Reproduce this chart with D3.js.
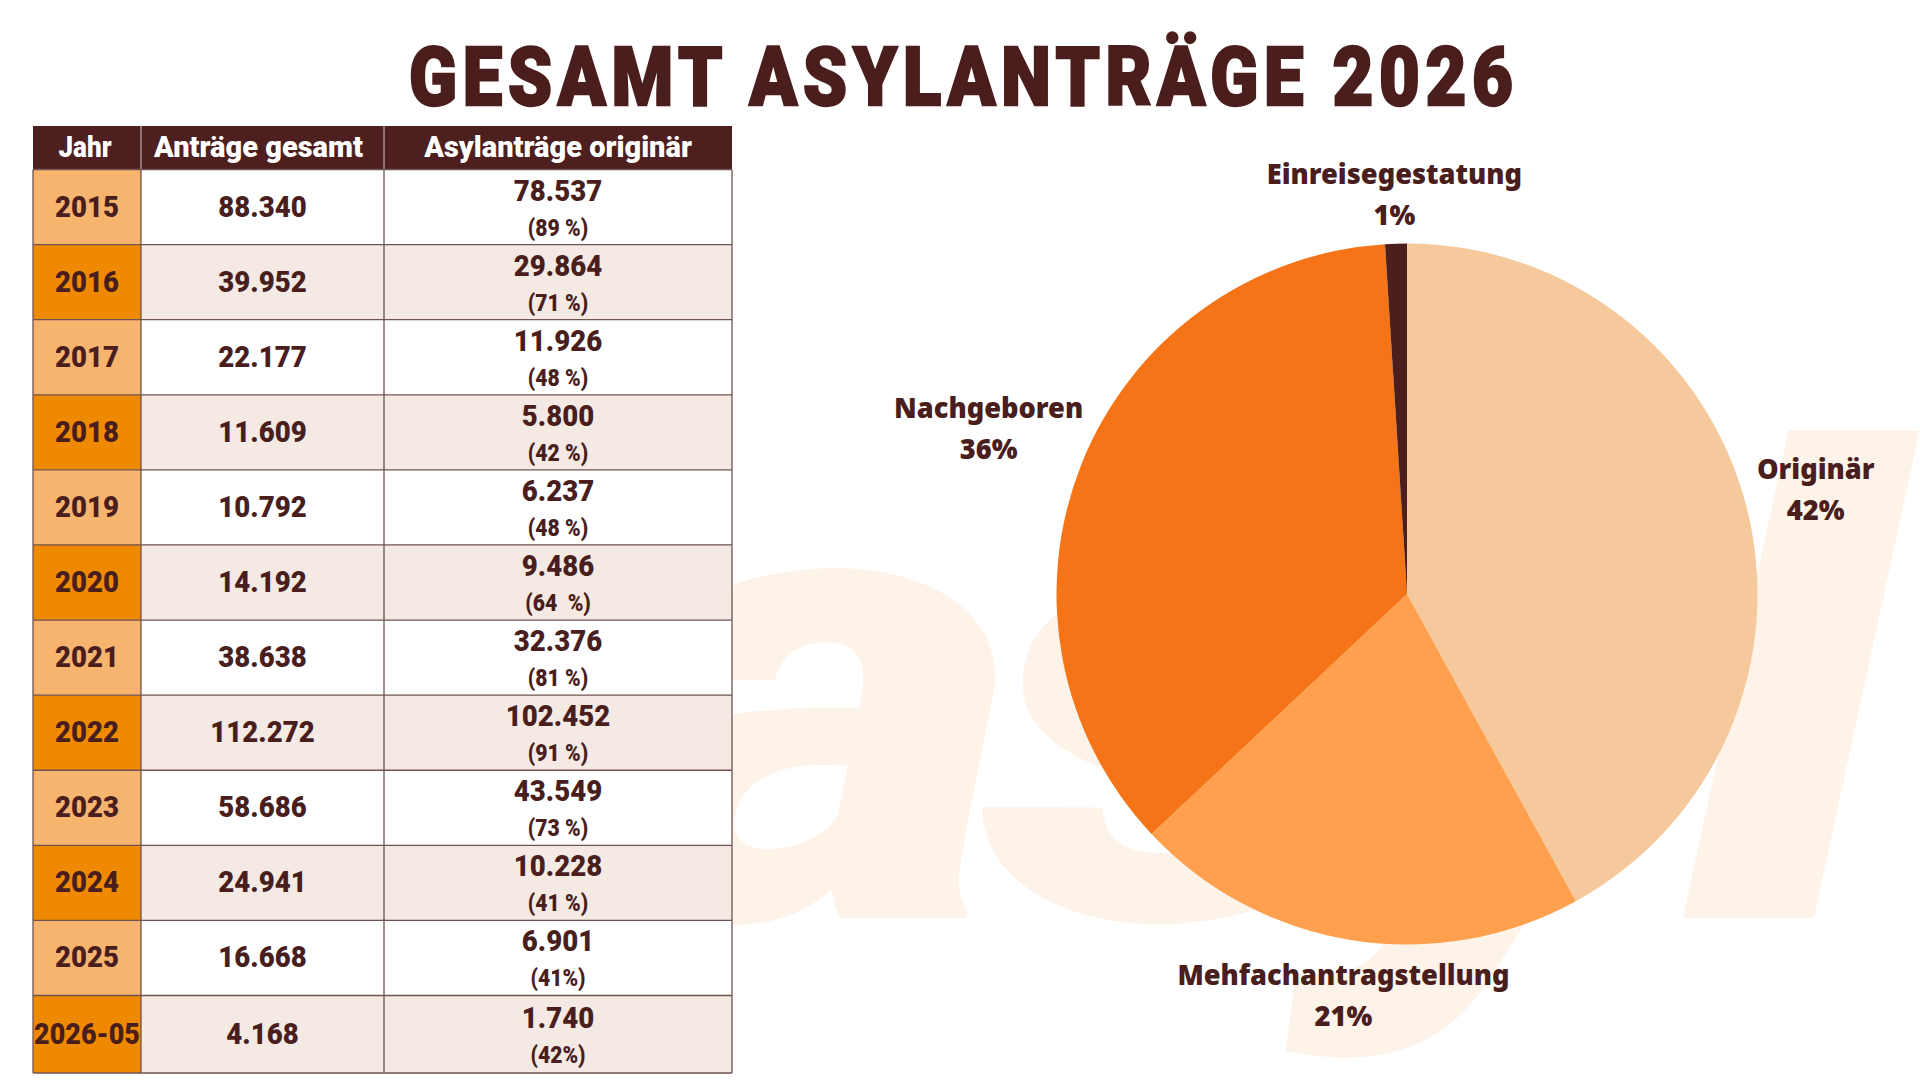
<!DOCTYPE html>
<meta charset="utf-8">
<style>
    html, body { margin: 0; padding: 0; background: #fff; }
    svg { display: block; }
    text { fill: #4a1e1c; white-space: pre; }
    .title { font-family: "Roboto", sans-serif; font-weight: 900; font-size: 82px; text-anchor: middle; stroke: #4a1e1c; stroke-width: 2.4px; }
    .head { font-family: "Roboto", sans-serif; font-weight: 900; font-size: 29px; text-anchor: middle; fill: #fff; }
    .cell { font-family: "Roboto", sans-serif; font-weight: 900; font-size: 30px; text-anchor: middle; }
    .sub { font-family: "Roboto", sans-serif; font-weight: 900; font-size: 23px; text-anchor: middle; }
    .pie-label { font-family: "Noto Sans", sans-serif; font-weight: 900; font-size: 29px; text-anchor: middle; }
    .mark { font-family: "Roboto", sans-serif; font-weight: 900; font-style: italic; font-size: 650px; fill: #fdf3e9; }
</style>
<svg id="f" width="1920" height="1080"></svg>
<script src="https://cdn.jsdelivr.net/npm/d3@7"></script>
<script>
    // table values
    var years = ["2015", "2016", "2017", "2018", "2019", "2020", "2021", "2022", "2023", "2024", "2025", "2026-05"];
    var totals = ["88.340", "39.952", "22.177", "11.609", "10.792", "14.192", "38.638", "112.272", "58.686", "24.941", "16.668", "4.168"];
    var originals = ["78.537", "29.864", "11.926", "5.800", "6.237", "9.486", "32.376", "102.452", "43.549", "10.228", "6.901", "1.740"];
    var shares = ["(89 %)", "(71 %)", "(48 %)", "(42 %)", "(48 %)", "(64  %)", "(81 %)", "(91 %)", "(73 %)", "(41 %)", "(41%)", "(42%)"];
    var headers = ["Jahr", "Anträge gesamt", "Asylanträge originär"];

    // pie values
    var slices = ["Originär", "Mehfachantragstellung", "Nachgeboren", "Einreisegestatung"];
    var percent = [42, 21, 36, 1];
    var sliceColors = ["#f5c99c", "#ffa04f", "#f57418", "#4d1f1c"];
    var labelRadius = [422, 406, 450, 400];

    var svg = d3.select("#f");

    var dark = "#4d1f1f", line = "#6f5350";
    var cols = [33, 141, 384, 732];
    var headShift = [-2, -4, 0];
    var bottom = 1073;
    var y = d3.scaleBand().domain(years).range([169.5, 1070.6]);
    var last = years[years.length - 1];
    var rowH = function (d) { return d === last ? bottom - y(d) : y.bandwidth(); };
    var shift = function (d) { return d === last ? 1.5 : 0; };
    var squeeze = 0.92;

    // big background word, stretched; x positions are before the stretch
    var markScale = 1.25;
    svg.append("text").attr("class", "mark").attr("transform", "scale(" + markScale + ",1)")
        .attr("x", [604, 986, 1300, 1681].map(function (v) { return v / markScale; }).join(" "))
        .attr("y", 918).text("asyl");

    svg.append("text").attr("class", "title").attr("transform", "translate(961,105) scale(0.86,1)")
        .attr("textLength", 1104 / 0.86).attr("lengthAdjust", "spacing").text("GESAMT ASYLANTRÄGE 2026");

    // header
    var head = svg.append("g");
    head.append("rect").attr("x", cols[0]).attr("y", 126).attr("width", cols[3] - cols[0]).attr("height", 43.5).attr("fill", dark);
    headers.forEach(function (h, i) {
        head.append("text").attr("class", "head")
            .attr("transform", "translate(" + ((cols[i] + cols[i + 1]) / 2 + headShift[i]) + ",157)" + (i === 0 ? " scale(0.9,1)" : ""))
            .text(h);
        if (i) head.append("line").attr("x1", cols[i]).attr("x2", cols[i]).attr("y1", 126).attr("y2", 169.5).attr("stroke", "#d9c9c5").attr("stroke-width", 1);
    });

    // rows
    var row = svg.selectAll(".row").data(years).enter().append("g").attr("class", "row")
        .attr("transform", function (d) { return "translate(0," + y(d) + ")"; });

    row.append("rect").attr("x", cols[1]).attr("width", cols[3] - cols[1]).attr("height", rowH)
        .attr("fill", function (d, i) { return i % 2 ? "#f4e9e3" : "#fff"; });
    row.append("rect").attr("x", cols[0]).attr("width", cols[1] - cols[0]).attr("height", rowH)
        .attr("fill", function (d, i) { return i % 2 ? "#ef8a00" : "#f7b46f"; });

    function place(x, yy) {
        return function (d) { return "translate(" + x + "," + (yy + shift(d)) + ") scale(" + squeeze + ",1)"; };
    }

    row.append("text").attr("class", "cell").attr("transform", place((cols[0] + cols[1]) / 2, 47))
        .attr("textLength", function (d) { return d.length > 4 ? 115 : null; })
        .attr("lengthAdjust", "spacingAndGlyphs")
        .text(function (d) { return d; });
    row.append("text").attr("class", "cell").attr("transform", place((cols[1] + cols[2]) / 2, 47))
        .text(function (d, i) { return totals[i]; });
    row.append("text").attr("class", "cell").attr("transform", place((cols[2] + cols[3]) / 2, 31))
        .text(function (d, i) { return originals[i]; });
    row.append("text").attr("class", "sub").attr("transform", place((cols[2] + cols[3]) / 2, 66))
        .text(function (d, i) { return shares[i]; });

    // grid lines
    var grid = svg.append("g").attr("stroke", line).attr("stroke-width", 1.3);
    years.forEach(function (d) {
        grid.append("line").attr("x1", cols[0]).attr("x2", cols[3]).attr("y1", y(d)).attr("y2", y(d));
    });
    grid.append("line").attr("x1", cols[0]).attr("x2", cols[3]).attr("y1", bottom).attr("y2", bottom);
    cols.forEach(function (c) {
        grid.append("line").attr("x1", c).attr("x2", c).attr("y1", 169.5).attr("y2", bottom);
    });

    // pie
    var radius = 350.5;
    var g = svg.append("g").attr("transform", "translate(1407,594)");
    var arcs = d3.pie().sort(null)(percent);
    var arc = d3.arc().innerRadius(0).outerRadius(radius);

    g.selectAll("path").data(arcs).enter().append("path")
        .attr("d", arc)
        .attr("fill", function (d, i) { return sliceColors[i]; });

    var label = g.selectAll(".pie-label").data(arcs).enter().append("text")
        .attr("class", "pie-label")
        .attr("transform", function (d, i) {
            var c = d3.arc().innerRadius(labelRadius[i]).outerRadius(labelRadius[i]).centroid(d);
            return "translate(" + c[0] + "," + c[1] + ") scale(0.94,1)";
        });
    label.append("tspan").attr("x", 0).attr("y", -10).text(function (d, i) { return slices[i]; });
    label.append("tspan").attr("x", 0).attr("y", 31).text(function (d) { return d.data + "%"; });
</script>
